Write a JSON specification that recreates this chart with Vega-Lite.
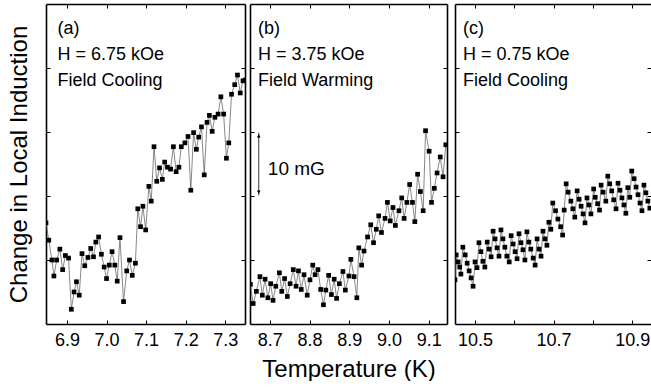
{
  "$schema": "https://vega.github.io/schema/vega-lite/v6.json",
  "background": "white",
  "padding": {"left": 7, "top": 3, "right": 0, "bottom": 0},
  "config": {
    "view": {"stroke": null},
    "font": "Liberation Sans",
    "axis": {
      "grid": false,
      "domainColor": "black",
      "domainWidth": 1.6,
      "tickColor": "black",
      "tickWidth": 1,
      "tickSize": -4,
      "labelFont": "Liberation Sans",
      "labelFontSize": 18,
      "labelColor": "black",
      "labelPadding": 11,
      "labelFlush": false,
      "labelOverlap": false,
      "titleFont": "Liberation Sans",
      "titleFontSize": 24,
      "titleFontWeight": "normal",
      "titleColor": "black"
    }
  },
  "datasets": {
    "a": [
      {"T":6.847,"B":15.8},{"T":6.854,"B":13.1},{"T":6.862,"B":10.0},{"T":6.867,"B":7.5},{"T":6.874,"B":10.0},{"T":6.882,"B":11.7},{"T":6.889,"B":8.5},{"T":6.896,"B":10.7},{"T":6.904,"B":10.3},{"T":6.911,"B":2.3},{"T":6.918,"B":5.0},{"T":6.924,"B":6.6},{"T":6.931,"B":4.5},{"T":6.938,"B":11.0},{"T":6.945,"B":9.1},{"T":6.953,"B":10.4},{"T":6.960,"B":11.8},{"T":6.967,"B":10.5},{"T":6.973,"B":12.8},{"T":6.980,"B":13.6},{"T":6.987,"B":10.9},{"T":6.994,"B":8.9},{"T":7.000,"B":7.1},{"T":7.007,"B":9.2},{"T":7.014,"B":11.3},{"T":7.021,"B":9.2},{"T":7.027,"B":6.7},{"T":7.034,"B":13.5},{"T":7.043,"B":3.5},{"T":7.051,"B":8.3},{"T":7.058,"B":10.0},{"T":7.065,"B":7.6},{"T":7.073,"B":9.5},{"T":7.079,"B":18.0},{"T":7.086,"B":15.2},{"T":7.092,"B":18.4},{"T":7.099,"B":14.7},{"T":7.107,"B":21.5},{"T":7.113,"B":19.2},{"T":7.120,"B":27.7},{"T":7.127,"B":22.3},{"T":7.134,"B":24.4},{"T":7.141,"B":22.6},{"T":7.147,"B":25.3},{"T":7.154,"B":24.5},{"T":7.162,"B":24.2},{"T":7.169,"B":27.7},{"T":7.176,"B":23.8},{"T":7.183,"B":24.5},{"T":7.189,"B":27.7},{"T":7.198,"B":28.3},{"T":7.206,"B":29.3},{"T":7.213,"B":20.9},{"T":7.220,"B":29.9},{"T":7.227,"B":27.3},{"T":7.233,"B":29.2},{"T":7.240,"B":30.8},{"T":7.247,"B":23.3},{"T":7.254,"B":31.5},{"T":7.260,"B":32.6},{"T":7.267,"B":30.1},{"T":7.274,"B":32.3},{"T":7.282,"B":32.8},{"T":7.289,"B":35.5},{"T":7.296,"B":32.8},{"T":7.303,"B":25.9},{"T":7.309,"B":28.3},{"T":7.316,"B":35.9},{"T":7.324,"B":37.4},{"T":7.331,"B":38.9},{"T":7.338,"B":36.1},{"T":7.345,"B":38.0},{"T":7.351,"B":38.1}
    ],
    "b": [
      {"T":8.651,"B":6.2},{"T":8.658,"B":3.2},{"T":8.666,"B":5.1},{"T":8.675,"B":7.4},{"T":8.681,"B":4.5},{"T":8.688,"B":7.0},{"T":8.695,"B":4.1},{"T":8.702,"B":6.3},{"T":8.708,"B":3.7},{"T":8.715,"B":5.9},{"T":8.724,"B":8.0},{"T":8.730,"B":5.1},{"T":8.737,"B":7.1},{"T":8.744,"B":4.3},{"T":8.751,"B":6.3},{"T":8.759,"B":8.5},{"T":8.766,"B":5.9},{"T":8.772,"B":8.3},{"T":8.779,"B":5.4},{"T":8.786,"B":7.7},{"T":8.794,"B":4.5},{"T":8.801,"B":6.9},{"T":8.808,"B":9.2},{"T":8.814,"B":7.7},{"T":8.821,"B":8.5},{"T":8.828,"B":5.4},{"T":8.835,"B":3.0},{"T":8.841,"B":5.3},{"T":8.848,"B":7.6},{"T":8.855,"B":4.6},{"T":8.862,"B":7.0},{"T":8.868,"B":4.0},{"T":8.875,"B":6.3},{"T":8.884,"B":8.2},{"T":8.890,"B":5.3},{"T":8.899,"B":7.5},{"T":8.904,"B":10.1},{"T":8.912,"B":7.4},{"T":8.919,"B":4.1},{"T":8.924,"B":11.9},{"T":8.931,"B":9.2},{"T":8.937,"B":11.4},{"T":8.946,"B":13.6},{"T":8.954,"B":15.5},{"T":8.961,"B":12.7},{"T":8.968,"B":14.8},{"T":8.974,"B":16.9},{"T":8.981,"B":14.3},{"T":8.990,"B":16.5},{"T":8.996,"B":19.0},{"T":9.003,"B":16.1},{"T":9.010,"B":18.2},{"T":9.016,"B":15.4},{"T":9.025,"B":17.7},{"T":9.032,"B":19.7},{"T":9.038,"B":16.5},{"T":9.045,"B":19.0},{"T":9.052,"B":21.8},{"T":9.059,"B":19.0},{"T":9.065,"B":16.0},{"T":9.072,"B":23.4},{"T":9.079,"B":20.7},{"T":9.086,"B":17.7},{"T":9.092,"B":30.2},{"T":9.101,"B":27.0},{"T":9.107,"B":19.0},{"T":9.114,"B":21.2},{"T":9.121,"B":23.6},{"T":9.129,"B":26.1},{"T":9.136,"B":23.0},{"T":9.143,"B":28.0}
    ],
    "c": [
      {"T":10.449,"B":6.9},{"T":10.452,"B":10.8},{"T":10.457,"B":9.7},{"T":10.461,"B":8.9},{"T":10.464,"B":7.8},{"T":10.469,"B":12.0},{"T":10.475,"B":10.8},{"T":10.480,"B":9.5},{"T":10.485,"B":8.3},{"T":10.490,"B":7.2},{"T":10.495,"B":5.9},{"T":10.500,"B":9.7},{"T":10.505,"B":8.8},{"T":10.510,"B":12.7},{"T":10.515,"B":11.3},{"T":10.520,"B":9.8},{"T":10.525,"B":8.9},{"T":10.531,"B":12.8},{"T":10.536,"B":11.7},{"T":10.541,"B":10.5},{"T":10.546,"B":14.5},{"T":10.551,"B":13.3},{"T":10.556,"B":11.9},{"T":10.561,"B":10.6},{"T":10.566,"B":14.7},{"T":10.571,"B":13.3},{"T":10.576,"B":12.0},{"T":10.581,"B":10.6},{"T":10.587,"B":9.7},{"T":10.592,"B":13.8},{"T":10.597,"B":12.5},{"T":10.602,"B":11.3},{"T":10.607,"B":10.2},{"T":10.612,"B":14.1},{"T":10.617,"B":12.7},{"T":10.622,"B":11.6},{"T":10.627,"B":10.0},{"T":10.632,"B":14.4},{"T":10.637,"B":12.8},{"T":10.642,"B":11.7},{"T":10.648,"B":10.3},{"T":10.653,"B":9.2},{"T":10.658,"B":13.3},{"T":10.663,"B":11.7},{"T":10.668,"B":10.6},{"T":10.673,"B":14.5},{"T":10.678,"B":13.3},{"T":10.683,"B":12.3},{"T":10.688,"B":15.9},{"T":10.693,"B":14.8},{"T":10.698,"B":18.9},{"T":10.705,"B":17.7},{"T":10.711,"B":16.4},{"T":10.718,"B":15.2},{"T":10.723,"B":13.9},{"T":10.727,"B":17.8},{"T":10.732,"B":21.9},{"T":10.737,"B":20.6},{"T":10.744,"B":19.2},{"T":10.749,"B":18.0},{"T":10.754,"B":16.7},{"T":10.760,"B":20.8},{"T":10.765,"B":19.5},{"T":10.770,"B":18.4},{"T":10.775,"B":17.2},{"T":10.780,"B":15.8},{"T":10.785,"B":19.7},{"T":10.790,"B":18.6},{"T":10.795,"B":17.2},{"T":10.802,"B":21.1},{"T":10.806,"B":19.8},{"T":10.812,"B":18.8},{"T":10.817,"B":17.8},{"T":10.821,"B":21.7},{"T":10.826,"B":20.6},{"T":10.833,"B":19.2},{"T":10.838,"B":23.1},{"T":10.843,"B":21.9},{"T":10.848,"B":20.8},{"T":10.853,"B":19.4},{"T":10.859,"B":18.0},{"T":10.864,"B":22.0},{"T":10.869,"B":20.9},{"T":10.874,"B":19.7},{"T":10.879,"B":18.6},{"T":10.884,"B":17.3},{"T":10.889,"B":21.3},{"T":10.894,"B":19.8},{"T":10.899,"B":23.9},{"T":10.905,"B":22.7},{"T":10.910,"B":21.4},{"T":10.915,"B":20.2},{"T":10.920,"B":18.9},{"T":10.925,"B":17.7},{"T":10.930,"B":21.7},{"T":10.935,"B":20.5},{"T":10.940,"B":19.2},{"T":10.945,"B":18.1}
    ]
  },
  "spacing": 3,
  "hconcat": [
    {
      "width": 199,
      "height": 320,
      "resolve": {"axis": {"x": "independent", "y": "independent"}},
      "layer": [
        {
          "data": {"name": "a"},
          "mark": {"type": "line", "color": "#555", "strokeWidth": 0.7, "clip": true},
          "encoding": {
            "x": {"field": "T", "type": "quantitative", "scale": {"domain": [6.847, 7.35], "nice": false, "zero": false}, "axis": {"orient": "bottom", "values": [6.9, 7.0, 7.1, 7.2, 7.3], "format": ".1f", "title": null}},
            "y": {"field": "B", "type": "quantitative", "scale": {"domain": [0, 50], "nice": false, "zero": false}, "axis": {"orient": "left", "values": [10, 20, 30, 40], "labels": false, "title": "Change in Local Induction", "titlePadding": 14}}
          }
        },
        {
          "data": {"name": "a"},
          "mark": {"type": "square", "color": "black", "opacity": 1, "size": 22, "clip": true},
          "encoding": {
            "x": {"field": "T", "type": "quantitative", "scale": {"domain": [6.847, 7.35], "nice": false, "zero": false}, "axis": {"orient": "top", "values": [6.9, 7.0, 7.1, 7.2, 7.3], "labels": false, "title": null}},
            "y": {"field": "B", "type": "quantitative", "scale": {"domain": [0, 50], "nice": false, "zero": false}, "axis": {"orient": "right", "values": [10, 20, 30, 40], "labels": false, "title": null}}
          }
        },
        {
          "data": {"values": [{"T": 6.876, "B": 45.3, "label": "(a)|H = 6.75 kOe|Field Cooling"}]},
          "mark": {"type": "text", "align": "left", "baseline": "alphabetic", "fontSize": 18, "lineHeight": 26, "lineBreak": "|", "color": "black", "font": "Liberation Sans"},
          "encoding": {
            "x": {"field": "T", "type": "quantitative", "axis": null},
            "y": {"field": "B", "type": "quantitative", "axis": null},
            "text": {"field": "label"}
          }
        }
      ]
    },
    {
      "spacing": 6,
      "hconcat": [
        {
          "width": 197,
          "height": 320,
          "resolve": {"axis": {"x": "independent", "y": "independent"}},
          "layer": [
            {
              "data": {"name": "b"},
              "mark": {"type": "line", "color": "#555", "strokeWidth": 0.7, "clip": true},
              "encoding": {
                "x": {"field": "T", "type": "quantitative", "scale": {"domain": [8.65, 9.146], "nice": false, "zero": false}, "axis": {"orient": "bottom", "values": [8.7, 8.8, 8.9, 9.0, 9.1], "format": ".1f", "title": "Temperature (K)", "titlePadding": 8}},
                "y": {"field": "B", "type": "quantitative", "scale": {"domain": [0, 50], "nice": false, "zero": false}, "axis": {"orient": "left", "values": [10, 20, 30, 40], "labels": false, "title": null}}
              }
            },
            {
              "data": {"name": "b"},
              "mark": {"type": "square", "color": "black", "opacity": 1, "size": 22, "clip": true},
              "encoding": {
                "x": {"field": "T", "type": "quantitative", "scale": {"domain": [8.65, 9.146], "nice": false, "zero": false}, "axis": {"orient": "top", "values": [8.7, 8.8, 8.9, 9.0, 9.1], "labels": false, "title": null}},
                "y": {"field": "B", "type": "quantitative", "scale": {"domain": [0, 50], "nice": false, "zero": false}, "axis": {"orient": "right", "values": [10, 20, 30, 40], "labels": false, "title": null}}
              }
            },
            {
              "data": {"values": [{"T": 8.67, "B": 45.3, "label": "(b)|H = 3.75 kOe|Field Warming"}]},
              "mark": {"type": "text", "align": "left", "baseline": "alphabetic", "fontSize": 18, "lineHeight": 26, "lineBreak": "|", "color": "black", "font": "Liberation Sans"},
              "encoding": {
                "x": {"field": "T", "type": "quantitative", "axis": null},
                "y": {"field": "B", "type": "quantitative", "axis": null},
                "text": {"field": "label"}
              }
            },
            {
              "data": {"values": [{"T": 8.672, "B": 20.1, "B2": 29.9}]},
              "mark": {"type": "rule", "color": "black", "strokeWidth": 0.8},
              "encoding": {
                "x": {"field": "T", "type": "quantitative", "axis": null},
                "y": {"field": "B", "type": "quantitative", "axis": null},
                "y2": {"field": "B2"}
              }
            },
            {
              "data": {"values": [{"T": 8.672, "B": 29.4}]},
              "mark": {"type": "point", "shape": "triangle-up", "filled": true, "color": "black", "opacity": 1, "size": 14},
              "encoding": {
                "x": {"field": "T", "type": "quantitative", "axis": null},
                "y": {"field": "B", "type": "quantitative", "axis": null}
              }
            },
            {
              "data": {"values": [{"T": 8.672, "B": 20.6}]},
              "mark": {"type": "point", "shape": "triangle-down", "filled": true, "color": "black", "opacity": 1, "size": 14},
              "encoding": {
                "x": {"field": "T", "type": "quantitative", "axis": null},
                "y": {"field": "B", "type": "quantitative", "axis": null}
              }
            },
            {
              "data": {"values": [{"T": 8.695, "B": 23.3, "label": "10 mG"}]},
              "mark": {"type": "text", "align": "left", "baseline": "alphabetic", "fontSize": 19, "color": "black", "font": "Liberation Sans"},
              "encoding": {
                "x": {"field": "T", "type": "quantitative", "axis": null},
                "y": {"field": "B", "type": "quantitative", "axis": null},
                "text": {"field": "label"}
              }
            }
          ]
        },
        {
          "width": 196,
          "height": 320,
          "resolve": {"axis": {"x": "independent", "y": "independent"}},
          "layer": [
            {
              "data": {"name": "c"},
              "mark": {"type": "line", "color": "#555", "strokeWidth": 0.7, "clip": true},
              "encoding": {
                "x": {"field": "T", "type": "quantitative", "scale": {"domain": [10.449, 10.948], "nice": false, "zero": false}, "axis": {"orient": "bottom", "values": [10.5, 10.6, 10.7, 10.8, 10.9], "labelExpr": "round(datum.value * 10) % 2 == 0 ? '' : format(datum.value, '.1f')", "title": null}},
                "y": {"field": "B", "type": "quantitative", "scale": {"domain": [0, 50], "nice": false, "zero": false}, "axis": {"orient": "left", "values": [10, 20, 30, 40], "labels": false, "title": null}}
              }
            },
            {
              "data": {"name": "c"},
              "mark": {"type": "square", "color": "black", "opacity": 1, "size": 22, "clip": true},
              "encoding": {
                "x": {"field": "T", "type": "quantitative", "scale": {"domain": [10.449, 10.948], "nice": false, "zero": false}, "axis": {"orient": "top", "values": [10.5, 10.6, 10.7, 10.8, 10.9], "labels": false, "title": null}},
                "y": {"field": "B", "type": "quantitative", "scale": {"domain": [0, 50], "nice": false, "zero": false}, "axis": {"orient": "right", "values": [10, 20, 30, 40], "labels": false, "title": null, "domain": false}}
              }
            },
            {
              "data": {"values": [{"T": 10.4695, "B": 45.3, "label": "(c)|H = 0.75 kOe|Field Cooling"}]},
              "mark": {"type": "text", "align": "left", "baseline": "alphabetic", "fontSize": 18, "lineHeight": 26, "lineBreak": "|", "color": "black", "font": "Liberation Sans"},
              "encoding": {
                "x": {"field": "T", "type": "quantitative", "axis": null},
                "y": {"field": "B", "type": "quantitative", "axis": null},
                "text": {"field": "label"}
              }
            }
          ]
        }
      ]
    }
  ]
}
